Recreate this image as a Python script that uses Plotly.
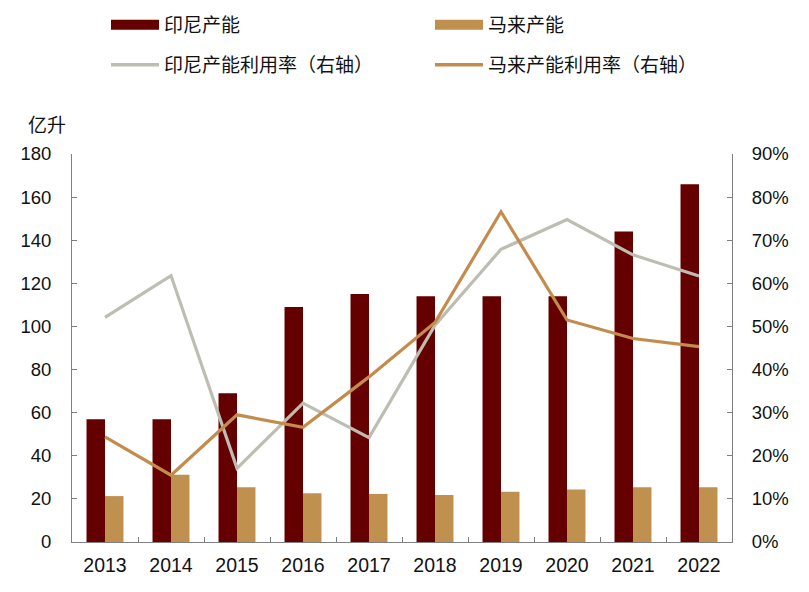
import plotly.graph_objects as go

years = ["2013", "2014", "2015", "2016", "2017", "2018", "2019", "2020", "2021", "2022"]
indo_cap = [57, 57, 69, 109, 115, 114, 114, 114, 144, 166]
malay_cap = [21.3, 31.2, 25.4, 22.6, 22.3, 21.8, 23.3, 24.3, 25.4, 25.4]
indo_util = [52.1, 61.8, 17.1, 32.2, 24.2, 50.3, 67.9, 74.8, 66.6, 61.7]
malay_util = [24.4, 15.5, 29.5, 26.6, 38.3, 50.9, 76.6, 51.5, 47.2, 45.3]

names = ["印尼产能", "马来产能", "印尼产能利用率（右轴）", "马来产能利用率（右轴）"]
c_indo_bar = "#650000"
c_malay_bar = "#C0904F"
c_indo_line = "#BDBEB1"
c_malay_line = "#C38C4C"

font_fam = "Liberation Sans, Arial, Noto Sans CJK SC, sans-serif"
cjk_fam = "Noto Sans CJK SC, sans-serif"

fig = go.Figure()
fig.add_trace(go.Bar(x=years, y=indo_cap, name=names[0], marker_color=c_indo_bar,
                     marker_line_width=0, showlegend=False))
fig.add_trace(go.Bar(x=years, y=malay_cap, name=names[1], marker_color=c_malay_bar,
                     marker_line_width=0, showlegend=False))
fig.add_trace(go.Scatter(x=years, y=indo_util, name=names[2], mode="lines",
                         line=dict(color=c_indo_line, width=3.2), yaxis="y2", showlegend=False))
fig.add_trace(go.Scatter(x=years, y=malay_util, name=names[3], mode="lines",
                         line=dict(color=c_malay_line, width=3.2), yaxis="y2", showlegend=False))

# legend entries (wide swatches like the reference), one legend box per entry
leg_cols = [c_indo_bar, c_malay_bar, c_indo_line, c_malay_line]
leg_w = [10, 10, 3.5, 3.5]
leg_ids = ["legend", "legend2", "legend3", "legend4"]
for n, c, w, lg in zip(names, leg_cols, leg_w, leg_ids):
    fig.add_trace(go.Scatter(x=[None], y=[None], mode="lines", name=n, legend=lg,
                             line=dict(color=c, width=w), showlegend=True))

axis_col = "#7f7f7f"
leg_common = dict(orientation="h", xanchor="left", yanchor="middle",
                  xref="container", yref="container", itemwidth=48,
                  font=dict(family=cjk_fam, size=19, color="#111111"),
                  bgcolor="rgba(0,0,0,0)", borderwidth=0)
col1_x, col2_x = 98 / 809, 422 / 809
row1_y, row2_y = 1 - 17 / 592, 1 - 57 / 592
fig.update_layout(
    width=809, height=592,
    margin=dict(l=61, r=85, t=146, b=58),
    paper_bgcolor="white", plot_bgcolor="white",
    barmode="group", bargap=0.44, bargroupgap=0,
    font=dict(family=font_fam, size=18, color="#111111"),
    legend=dict(x=col1_x, y=row1_y, **leg_common),
    legend2=dict(x=col2_x, y=row1_y, **leg_common),
    legend3=dict(x=col1_x, y=row2_y, **leg_common),
    legend4=dict(x=col2_x, y=row2_y, **leg_common),
    xaxis=dict(type="category", showline=True, linecolor=axis_col, linewidth=1,
               ticks="inside", tickson="boundaries", ticklen=5, tickcolor=axis_col,
               showgrid=False, tickfont=dict(size=19.5), zeroline=False,
               ticklabelstandoff=6),
    yaxis=dict(range=[0, 180], dtick=20, showline=True, linecolor=axis_col, linewidth=1,
               ticks="inside", ticklen=5, tickcolor=axis_col, showgrid=False,
               zeroline=False, tickfont=dict(size=18.5), ticklabelstandoff=16),
    yaxis2=dict(range=[0, 90], dtick=10, overlaying="y", side="right", ticksuffix="%",
                showline=True, linecolor=axis_col, linewidth=1, ticks="inside", ticklen=5,
                tickcolor=axis_col, showgrid=False, zeroline=False, tickfont=dict(size=18.5),
                ticklabelstandoff=15),
)
fig.add_annotation(text="亿升", xref="paper", yref="paper", x=-46 / 663, y=1 + 31 / 388,
                   xanchor="left", yanchor="middle", showarrow=False,
                   font=dict(family=cjk_fam, size=19, color="#111111"))

fig.write_html("out.html")
